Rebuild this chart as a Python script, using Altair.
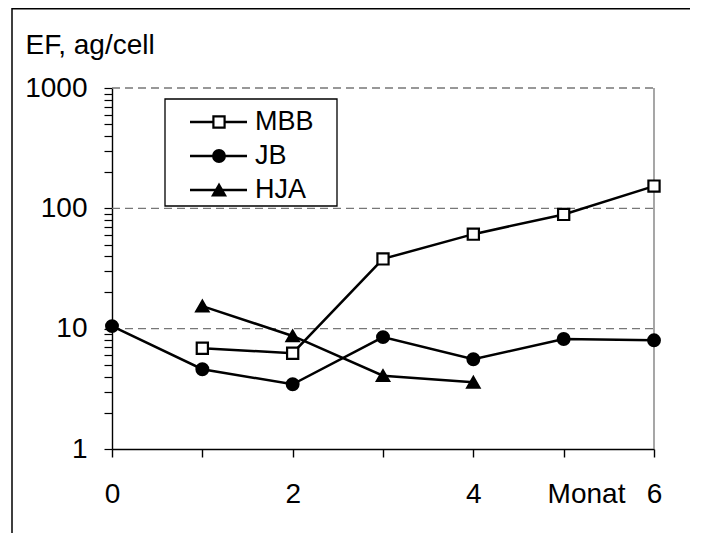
import altair as alt
import pandas as pd

SERIES = ["MBB", "JB", "HJA"]
MONTHS = [0, 1, 2, 3, 4, 5, 6]
MBB = [None, 6.87, 6.25, 38.0, 61.0, 89.0, 153.0]
JB = [10.5, 4.6, 3.45, 8.5, 5.57, 8.2, 8.0]
HJA = [None, 15.4, 8.7, 4.07, 3.58, None, None]

Y_MAJOR = [1, 10, 100, 1000]
GRID_VALUES = [10, 100, 1000]
X_LABELED = [0, 2, 4, 6]

FONT = "Liberation Sans"
W, H = 542, 361

rows = []
for name, vals in zip(SERIES, [MBB, JB, HJA]):
    for m, v in zip(MONTHS, vals):
        if v is not None:
            rows.append({"series": name, "month": m, "ef": v})
df = pd.DataFrame(rows)

y_minor = []
for base in Y_MAJOR[:-1]:
    y_minor += [base * k for k in range(1, 10)]
y_ticks = y_minor + [Y_MAJOR[-1]]

shape_scale = alt.Scale(domain=SERIES, range=["square", "circle", "triangle-up"])
fill_scale = alt.Scale(domain=SERIES, range=["white", "black", "black"])
size_scale = alt.Scale(domain=SERIES, range=[125, 150, 200])

x_axis = alt.Axis(
    values=MONTHS,
    labelExpr="indexof([" + ",".join(str(v) for v in X_LABELED) + "], datum.value) >= 0 ? format(datum.value, 'd') : ''",
    grid=False,
    domain=True,
    domainColor="black",
    domainWidth=1.4,
    ticks=True,
    tickColor="black",
    tickWidth=1.4,
    tickSize=8,
    labelFontSize=28,
    labelColor="black",
    labelPadding=23,
    labelOverlap=False,
    labelFlush=False,
    title="Monat",
    titleFontSize=28,
    titleFontWeight="normal",
    titleColor="black",
    titleX=474,
    titleY=53,
    titleAlign="center",
    titleBaseline="alphabetic",
)
y_axis = alt.Axis(
    values=y_ticks,
    labelExpr="indexof([" + ",".join(str(v) for v in Y_MAJOR) + "], datum.value) >= 0 ? format(datum.value, 'd') : ''",
    grid=False,
    domain=True,
    domainColor="black",
    domainWidth=1.4,
    ticks=True,
    tickColor="black",
    tickWidth=1.2,
    tickSize=8,
    labelFontSize=28,
    labelColor="black",
    labelPadding=17,
    labelOverlap=False,
    labelFlush=False,
    title="EF, ag/cell",
    titleAngle=0,
    titleFontSize=28,
    titleFontWeight="normal",
    titleColor="black",
    titleAlign="left",
    titleBaseline="alphabetic",
    titleX=-87,
    titleY=-35,
)
x_scale = alt.Scale(domain=[0, 6], nice=False)
y_scale = alt.Scale(type="log", domain=[1, 1000], nice=False)


def xe(field):
    return alt.X(field, scale=x_scale, axis=x_axis)


def ye(field):
    return alt.Y(field, scale=y_scale, axis=y_axis)


base = alt.Chart(df)

grid = alt.Chart(pd.DataFrame({"ef": GRID_VALUES})).mark_rule(
    color="#777777", strokeWidth=1.3, strokeDash=[8, 5]
).encode(
    y=ye("ef:Q"),
    x=alt.value(0),
    x2=alt.value(W),
)

right_border = alt.Chart(pd.DataFrame({"a": [0]})).mark_rule(
    color="#777777", strokeWidth=1.3
).encode(x=alt.value(W), y=alt.value(0), y2=alt.value(H))

lines = base.mark_line(color="black", strokeWidth=2.5).encode(
    x=xe("month:Q"), y=ye("ef:Q"), detail="series:N", order="month:Q"
)

points = base.mark_point(filled=True, stroke="black", strokeWidth=2.2, opacity=1).encode(
    x=xe("month:Q"),
    y=ye("ef:Q"),
    shape=alt.Shape("series:N", scale=shape_scale, legend=None),
    fill=alt.Fill("series:N", scale=fill_scale, legend=None),
    size=alt.Size("series:N", scale=size_scale, legend=None),
)

main = alt.layer(grid, right_border, lines, points)

# legend
leg_df = pd.DataFrame({"series": SERIES})
leg_y = alt.Y("series:N", scale=alt.Scale(type="point", domain=SERIES, range=[34, 102], padding=0), axis=None)

leg_box = alt.Chart(pd.DataFrame({"a": [0]})).mark_rect(
    fill="white", stroke="black", strokeWidth=1.3
).encode(x=alt.value(53), x2=alt.value(225), y=alt.value(11), y2=alt.value(118))

leg_lines = alt.Chart(leg_df).mark_rule(color="black", strokeWidth=2.5).encode(
    y=leg_y, x=alt.value(78), x2=alt.value(135)
)
leg_pts = alt.Chart(leg_df).mark_point(filled=True, stroke="black", strokeWidth=2.2, opacity=1).encode(
    y=leg_y,
    x=alt.value(107),
    shape=alt.Shape("series:N", scale=shape_scale, legend=None),
    fill=alt.Fill("series:N", scale=fill_scale, legend=None),
    size=alt.Size("series:N", scale=size_scale, legend=None),
)
leg_text = alt.Chart(leg_df).mark_text(
    align="left", baseline="middle", fontSize=27, font=FONT, color="black"
).encode(y=leg_y, x=alt.value(143), text="series:N")

legend = alt.layer(leg_box, leg_lines, leg_pts, leg_text)

frame = alt.Chart(pd.DataFrame({"a": [0]})).mark_rect(
    fillOpacity=0, stroke="black", strokeWidth=1.5
).encode(x=alt.value(-100), x2=alt.value(700), y=alt.value(-79.3), y2=alt.value(600))

chart = (
    alt.layer(main, legend, frame)
    .resolve_scale(y="independent")
    .properties(
        width=W,
        height=H,
        autosize=alt.AutoSizeParams(type="none"),
        padding={"left": 104, "top": 80, "right": 36, "bottom": 84},
        background="white",
    )
    .configure(font=FONT)
    .configure_view(strokeOpacity=0)
)

chart.save("out.html", embed_options={"renderer": "svg", "actions": False})
